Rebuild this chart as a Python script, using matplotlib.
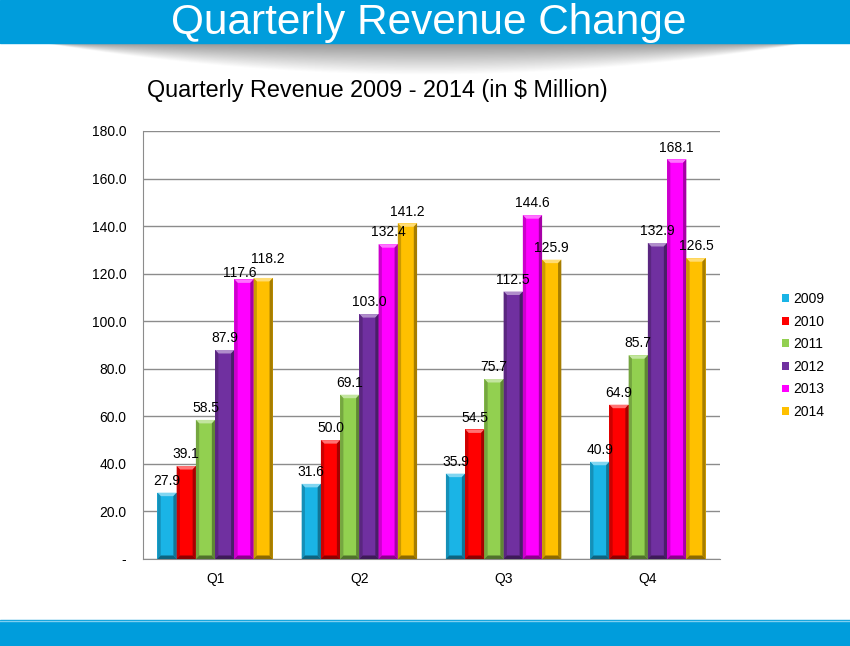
import numpy as np
import matplotlib
matplotlib.use('Agg')
import matplotlib.pyplot as plt
from matplotlib.patches import Polygon, Rectangle
from matplotlib.colors import to_rgb

plt.rcParams['font.family'] = ['Liberation Sans', 'DejaVu Sans']

# data
quarters = ['Q1', 'Q2', 'Q3', 'Q4']
years = ['2009', '2010', '2011', '2012', '2013', '2014']
rev_2009 = [27.9, 31.6, 35.9, 40.9]
rev_2010 = [39.1, 50.0, 54.5, 64.9]
rev_2011 = [58.5, 69.1, 75.7, 85.7]
rev_2012 = [87.9, 103.0, 112.5, 132.9]
rev_2013 = [117.6, 132.4, 144.6, 168.1]
rev_2014 = [118.2, 141.2, 125.9, 126.5]
series = [rev_2009, rev_2010, rev_2011, rev_2012, rev_2013, rev_2014]
colors = ['#1ab4e6', '#ff0000', '#92d050', '#7030a0', '#ff00ff', '#ffc000']

fig = plt.figure(figsize=(8.5, 6.46), dpi=100)
W, H = 850, 646

# header band + shadow, bottom band
hdr = fig.add_axes([0, 0, 1, 1], zorder=0)
hdr.axis('off')
xx, yy = np.meshgrid(np.linspace(0, W, 400), np.linspace(43, 80, 60))
depth = 32 * np.clip(1 - ((xx - 425) / 380) ** 2, 0, None)
alpha = np.clip(1 - (yy - 43) / (depth + 1e-6), 0, 1) * 0.75
img = np.zeros(xx.shape + (4,))
img[..., :3] = 0.45
img[..., 3] = alpha
hdr.imshow(img, extent=[0, W, 80, 43], aspect='auto', interpolation='bilinear')
hdr.add_patch(Rectangle((0, 0), W, 43, color='#009ddc'))
hdr.add_patch(Rectangle((0, 620), W, 26, color='#009ddc'))
hdr.plot([0, W], [620.5, 620.5], color='#7fcff0', lw=1)
hdr.set_xlim(0, W)
hdr.set_ylim(H, 0)
fig.text(429 / W, 1 - 34 / H, 'Quarterly Revenue Change', color='white',
         fontsize=30.5, ha='center', va='baseline')
fig.text(147 / W, 1 - 90 / H, 'Quarterly Revenue 2009 - 2014 (in $ Million)',
         fontsize=16.8, ha='left', va='center')

ax = fig.add_axes([143 / W, 1 - 559 / H, 577 / W, 428 / H], zorder=2)
ax.patch.set_alpha(0)

x = np.arange(len(quarters))
bw = 0.8 / len(years)
px = 4 / 577  # one pixel in x data units
py = 180 / 428  # one pixel in y data units


def shade(c, f):
    r, g, b = to_rgb(c)
    if f > 1:
        return tuple(min(1, v + (1 - v) * (f - 1)) for v in (r, g, b))
    return tuple(v * f for v in (r, g, b))


def bevel(bar, c):
    x0 = bar.get_x()
    w = bar.get_width()
    h = bar.get_height()
    dx = w * 0.17
    dy = py * 3.5
    x1 = x0 + w
    ax.add_patch(Polygon([(x0, h), (x1, h), (x1 - dx, h - dy), (x0 + dx, h - dy)],
                         color=shade(c, 1.45), lw=0, zorder=3))
    ax.add_patch(Polygon([(x0, 0), (x0, h), (x0 + dx, h - dy), (x0 + dx, dy)],
                         color=shade(c, 0.8), lw=0, zorder=3))
    ax.add_patch(Polygon([(x1, 0), (x1, h), (x1 - dx, h - dy), (x1 - dx, dy)],
                         color=shade(c, 0.65), lw=0, zorder=3))
    ax.add_patch(Polygon([(x0, 0), (x1, 0), (x1 - dx, dy), (x0 + dx, dy)],
                         color=shade(c, 0.55), lw=0, zorder=3))


# label nudges (pixels) where Excel moved colliding labels apart
nudge = {(4, 0): (-4, -5), (5, 0): (4.5, 7)}

for i, (vals, c, yr) in enumerate(zip(series, colors, years)):
    pos = x - 0.4 + bw * (i + 0.5)
    bars = ax.bar(pos, vals, width=bw, color=c, label=yr, zorder=2)
    for j, (b, v) in enumerate(zip(bars, vals)):
        bevel(b, c)
        ndx, ndy = nudge.get((i, j), (0, 0))
        ax.text(b.get_x() + b.get_width() / 2 + ndx * px, v + 2.0 + ndy * py,
                f'{v:.1f}', ha='center', va='bottom', fontsize=10, zorder=5)

ax.set_xlim(-0.5, 3.5)
ax.set_ylim(0, 180)
ax.set_yticks(np.arange(0, 181, 20))
ax.set_yticklabels(['-'] + [f'{v:.1f}' for v in np.arange(20, 181, 20)])
ax.set_xticks(x)
ax.set_xticklabels(quarters)
ax.tick_params(axis='both', length=0, labelsize=10)
ax.tick_params(axis='y', pad=12)
ax.tick_params(axis='x', pad=9)
ax.grid(axis='y', color='#8c8c8c', lw=1)
ax.set_axisbelow(True)
for s in ['top', 'right']:
    ax.spines[s].set_visible(False)
ax.spines['left'].set_color('#8c8c8c')
ax.spines['bottom'].set_color('#8c8c8c')

leg = ax.legend(loc='upper left', bbox_to_anchor=(1.095, 0.64), frameon=False,
                fontsize=10, handlelength=0.5, handleheight=0.5,
                handletextpad=0.3, labelspacing=0.62, borderpad=0)

fig.savefig('out.png', dpi=100)
